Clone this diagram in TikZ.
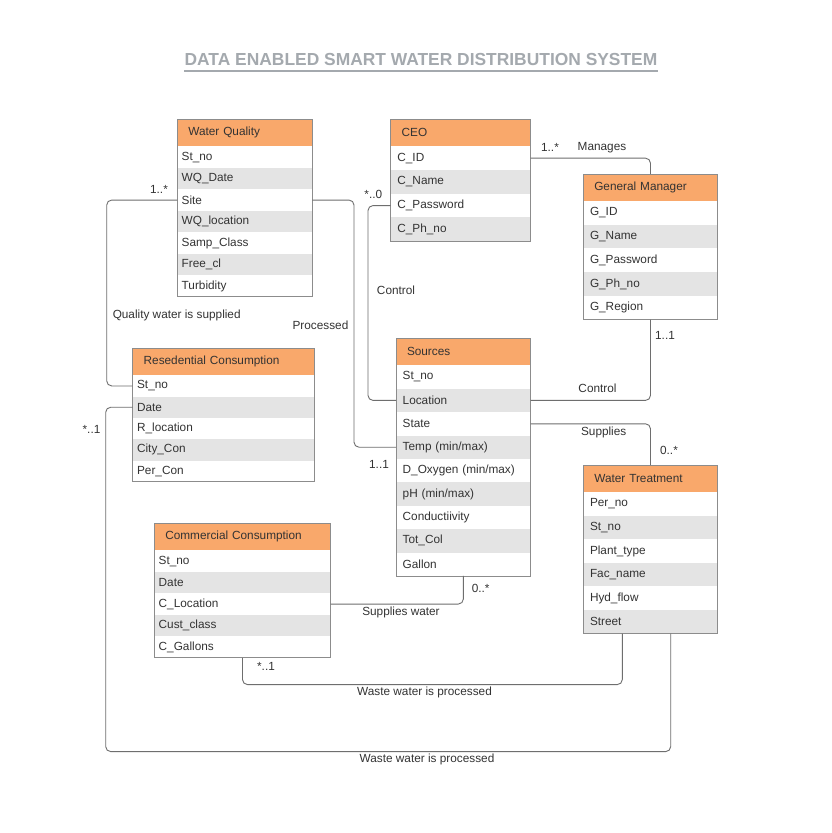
\documentclass[tikz,border=0pt]{standalone}
\usepackage{fontspec}
\setmainfont{Liberation Sans}
\usepackage{tikz}
\usetikzlibrary{positioning,calc}
\usepackage{xcolor}
\definecolor{headfill}{HTML}{F9A86B}
\definecolor{rowgray}{HTML}{E4E4E4}
\definecolor{boxgray}{HTML}{8C8C8C}
\definecolor{linegray}{HTML}{6E6E6E}
\definecolor{ink}{HTML}{333333}
\definecolor{titlegray}{HTML}{A4A9AE}

% one table: name, title, top left corner, width, row height, text padding, rows
\newcommand{\erbox}[7]{%
  \pgfmathsetmacro{\hw}{#4-22}%
  \pgfmathsetmacro{\rw}{#4-2*#6}%
  \node[headbox, minimum width=#4pt, text width=\hw pt, anchor=north west] (#10) at #3 {#2};
  \foreach \txt [count=\i] in {#7} {
    \pgfmathtruncatemacro{\prev}{\i-1}
    \ifodd\i\relax \def\rowfill{white}\else \def\rowfill{rowgray}\fi
    \node[rowbox, fill=\rowfill, minimum width=#4pt, minimum height=#5pt, text width=\rw pt,
      inner xsep=#6pt, anchor=north west] (#1\i) at (#1\prev.south west) {\txt};
    \xdef\lastrow{#1\i}
  }
  \draw[boxgray, line width=0.8pt] (#10.north west) rectangle (\lastrow.south east);
}

\tikzset{
  headbox/.style={fill=headfill, draw=boxgray, line width=0.8pt, text=ink, inner xsep=11pt,
    inner ysep=0pt, outer sep=0pt, minimum height=27pt, align=left},
  rowbox/.style={text=ink, inner ysep=0pt, outer sep=0pt, align=left},
  link/.style={draw=linegray, line width=0.9pt, rounded corners=5pt},
  lbl/.style={text=ink, inner sep=0pt}
}

\begin{document}
\begin{tikzpicture}[x=1pt, y=-1pt, font=\fontsize{11.8}{14}\selectfont]
    \fill[white] (0,0) rectangle (832,833);
    \useasboundingbox (0,0) rectangle (832,833);

    % title
    \node[titlegray, font=\fontsize{17.4}{20}\selectfont\bfseries, inner xsep=0pt, inner ysep=0pt] (title) at (421,59.2)
      {DATA ENABLED SMART WATER DISTRIBUTION SYSTEM};
    \draw[titlegray, line width=2pt] ([yshift=-5.5pt]title.south west) -- ([yshift=-5.5pt]title.south east);

    % tables
    \erbox{wq}{Water Quality}{(177.3,119.3)}{135}{21.5}{4.4}
      {St\_no, WQ\_Date, Site, WQ\_location, Samp\_Class, Free\_cl, Turbidity}
    \erbox{ceo}{CEO}{(390.7,119.3)}{140}{23.7}{6.7}
      {C\_ID, C\_Name, C\_Password, C\_Ph\_no}
    \erbox{gm}{General Manager}{(583.3,174)}{134.4}{23.7}{6.7}
      {G\_ID, G\_Name, G\_Password, G\_Ph\_no, G\_Region}
    \erbox{rc}{Resedential Consumption}{(132.7,348.3)}{181.3}{21.3}{4.4}
      {St\_no, Date, R\_location, City\_Con, Per\_Con}
    \erbox{src}{Sources}{(396,338.3)}{134.7}{23.4}{6.7}
      {St\_no, Location, State, Temp (min/max), D\_Oxygen (min/max), pH (min/max), Conductiivity, Tot\_Col, Gallon}
    \erbox{wt}{Water Treatment}{(583.3,465)}{134.4}{23.6}{6.7}
      {Per\_no, St\_no, Plant\_type, Fac\_name, Hyd\_flow, Street}
    \erbox{cc}{Commercial Consumption}{(154.3,523.3)}{176.4}{21.5}{4.4}
      {St\_no, Date, C\_Location, Cust\_class, C\_Gallons}

    % relations
    \draw[link] (wq3.west) -| ([xshift=-26pt]rc1.west) -- (rc1.west);
    \draw[link] (wq3.east) -| ([xshift=-42pt]src4.west) -- (src4.west);
    \draw[link] (ceo3.west) -| ([xshift=-28pt]src2.west) -- (src2.west);
    \draw[link] (ceo1.east) -| (gm0.north);
    \draw[link] (src2.east) -| (gm5.south);
    \draw[link] (src3.east) -| (wt0.north);
    \draw[link] (cc3.east) -| (src9.south);
    \draw[link] ([xshift=39pt]wt6.south west) -- ++(0,51) -| (cc5.south);
    \draw[link] ([xshift=87.4pt]wt6.south west) -- ++(0,118) -| ([xshift=-27pt]rc2.west) -- (rc2.west);

    % labels
    \node[lbl] (mwq) at (159,189) {1..*};
    \node[lbl] (lsupplied) at (176.7,315.7) {Quality water is supplied};
    \node[lbl] (lprocessed) at (320.5,325) {Processed};
    \node[lbl] (mceo) at (373.3,194) {*..0};
    \node[lbl] (mmanage) at (550,147.3) {1..*};
    \node[lbl] (lmanages) at (602,147.3) {Manages};
    \node[lbl] (lcontrola) at (396,290.3) {Control};
    \node[lbl] (mgm) at (665,335) {1..1};
    \node[lbl] (lcontrolb) at (597.5,388.3) {Control};
    \node[lbl] (lsupplies) at (603.7,432.3) {Supplies};
    \node[lbl] (mwt) at (669,450) {0..*};
    \node[lbl] (mrc) at (91.5,429) {*..1};
    \node[lbl] (msrc) at (379,464.7) {1..1};
    \node[lbl] (msrcb) at (480.7,588.3) {0..*};
    \node[lbl] (lsupwater) at (401,612.3) {Supplies water};
    \node[lbl] (mcc) at (266,666.7) {*..1};
    \node[lbl] (lwastea) at (424.5,692.7) {Waste water is processed};
    \node[lbl] (lwasteb) at (427,759.3) {Waste water is processed};
  \end{tikzpicture}
\end{document}
